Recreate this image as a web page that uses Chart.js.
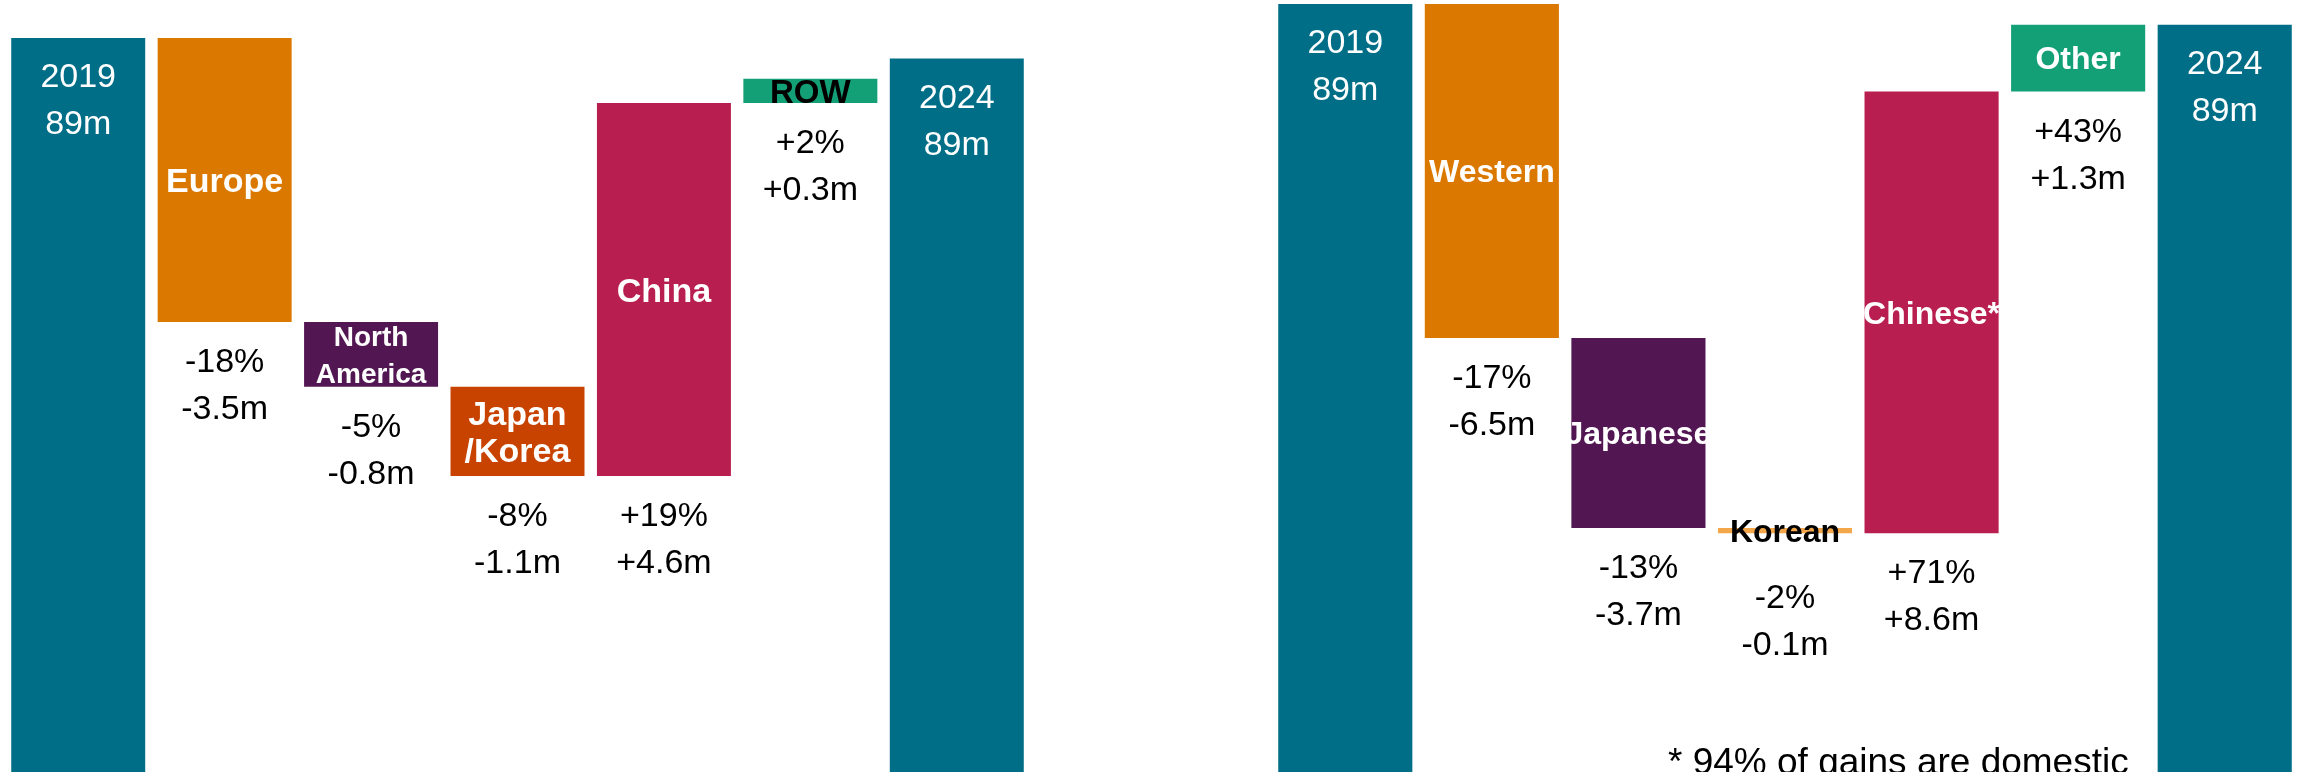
<!DOCTYPE html>
<html>
<head>
<meta charset="utf-8">
<title>Vehicle sales 2019-2024</title>
<script src="https://cdn.jsdelivr.net/npm/chart.js@4.4.1/dist/chart.umd.min.js"></script>
<style>
  html, body { margin: 0; padding: 0; background: #fff; overflow: hidden; }
  #wrap { position: relative; width: 2303px; height: 772px; }
  canvas { position: absolute; top: 0; }
  #byMarket { left: 0; }
  #byBrand { left: 1150px; }
</style>
</head>
<body>
<div id="wrap">
  <canvas id="byMarket" width="1150" height="772"></canvas>
  <canvas id="byBrand" width="1153" height="772"></canvas>
</div>
<script>
// sales in millions, 2019 -> 2024
const years = ['2019', '2024'];

// by market
const marketNames = ['Europe', 'North\nAmerica', 'Japan\n/Korea', 'China', 'ROW'];
const marketChange = [-3.5, -0.8, -1.1, 4.6, 0.3];
const marketPct = [-18, -5, -8, 19, 2];
const marketTotals = [89, 88.75];

// by brand origin
const brandNames = ['Western', 'Japanese', 'Korean', 'Chinese*', 'Other'];
const brandChange = [-6.5, -3.7, -0.1, 8.6, 1.3];
const brandPct = [-17, -13, -2, 71, 43];
const brandTotals = [89, 88.6];

const footnote = '* 94% of gains are domestic';

const FONT = '"Liberation Sans", Arial, Helvetica, sans-serif';
const TEAL = '#006E87';

const signed = (v, s) => (v > 0 ? '+' : '') + v + s;

function drawLines(ctx, lines, x, firstCenter, size, gap) {
    lines.forEach((line, k) => {
        // cap centre -> alphabetic baseline
        ctx.fillText(line, x, firstCenter + k * gap + size * 0.358);
    });
}

function makeWaterfall(id, names, change, pct, totals, opts) {
    const labels = [years[0], ...names.map(n => n.replace('\n', ' ')), years[1]];

    // floating bars: totals from below the axis, steps from the running sum
    const bars = [[0, totals[0]]];
    let run = totals[0];
    change.forEach(d => {
        bars.push([Math.min(run, run + d), Math.max(run, run + d)]);
        run += d;
    });
    bars.push([0, totals[1]]);

    const textPlugin = {
        id: 'waterfallText',
        afterDatasetsDraw(chart) {
            const ctx = chart.ctx;
            const area = chart.chartArea;
            const meta = chart.getDatasetMeta(0);
            ctx.save();
            ctx.textAlign = 'center';
            meta.data.forEach((el, i) => {
                const top = Math.min(el.y, el.base);
                const bottom = Math.min(Math.max(el.y, el.base), area.bottom);
                const x = el.x;
                if (i === 0 || i === meta.data.length - 1) {
                    const t = totals[i === 0 ? 0 : 1];
                    ctx.fillStyle = '#fff';
                    ctx.font = '34px ' + FONT;
                    drawLines(ctx, [years[i === 0 ? 0 : 1], Math.round(t) + 'm'], x, top + 37, 34, 47);
                    return;
                }
                const j = i - 1;
                const h = bottom - top;
                const size = opts.nameSizes[j];
                const lines = names[j].split('\n');
                const gap = 37;
                ctx.font = 'bold ' + size + 'px ' + FONT;
                ctx.fillStyle = h >= 40 ? '#fff' : '#000';
                const mid = (top + bottom) / 2 - (lines.length - 1) * gap / 2;
                drawLines(ctx, lines, x, mid, size, gap);

                ctx.fillStyle = '#000';
                ctx.font = '34px ' + FONT;
                const start = h < 15 ? bottom + 63 : bottom + 38;
                drawLines(ctx, [signed(pct[j], '%'), signed(change[j], 'm')], x, start, 34, 47);
            });
            if (opts.note) {
                ctx.textAlign = 'left';
                ctx.fillStyle = '#000';
                ctx.font = '37px ' + FONT;
                ctx.fillText(opts.note, opts.noteX, 774);
            }
            ctx.restore();
        }
    };

    return new Chart(document.getElementById(id), {
        type: 'bar',
        data: {
            labels: labels,
            datasets: [{
                data: bars,
                backgroundColor: opts.colors,
                borderWidth: 0,
                barPercentage: 0.915,
                categoryPercentage: 1
            }]
        },
        options: {
            responsive: false,
            animation: false,
            events: [],
            layout: { padding: opts.padding },
            plugins: { legend: { display: false }, tooltip: { enabled: false } },
            scales: {
                x: { display: false },
                y: { display: false, min: opts.yMin, max: opts.yMax }
            }
        },
        plugins: [textPlugin]
    });
}

makeWaterfall('byMarket', marketNames, marketChange, marketPct, marketTotals, {
    colors: [TEAL, '#DB7800', '#521752', '#C84300', '#B81F50', '#13A077', TEAL],
    nameSizes: [34, 28, 34, 34, 33],
    padding: { left: 5, right: 120, top: 0, bottom: 0 },
    yMin: 79.95,
    yMax: 89.47
});

makeWaterfall('byBrand', brandNames, brandChange, brandPct, brandTotals, {
    colors: [TEAL, '#DB7800', '#521752', '#F4A74A', '#B81F50', '#13A077', TEAL],
    nameSizes: [32, 32, 32, 32, 32],
    padding: { left: 122, right: 5, top: 0, bottom: 0 },
    yMin: 74.05,
    yMax: 89.08,
    note: footnote,
    noteX: 518
});
</script>
</body>
</html>
